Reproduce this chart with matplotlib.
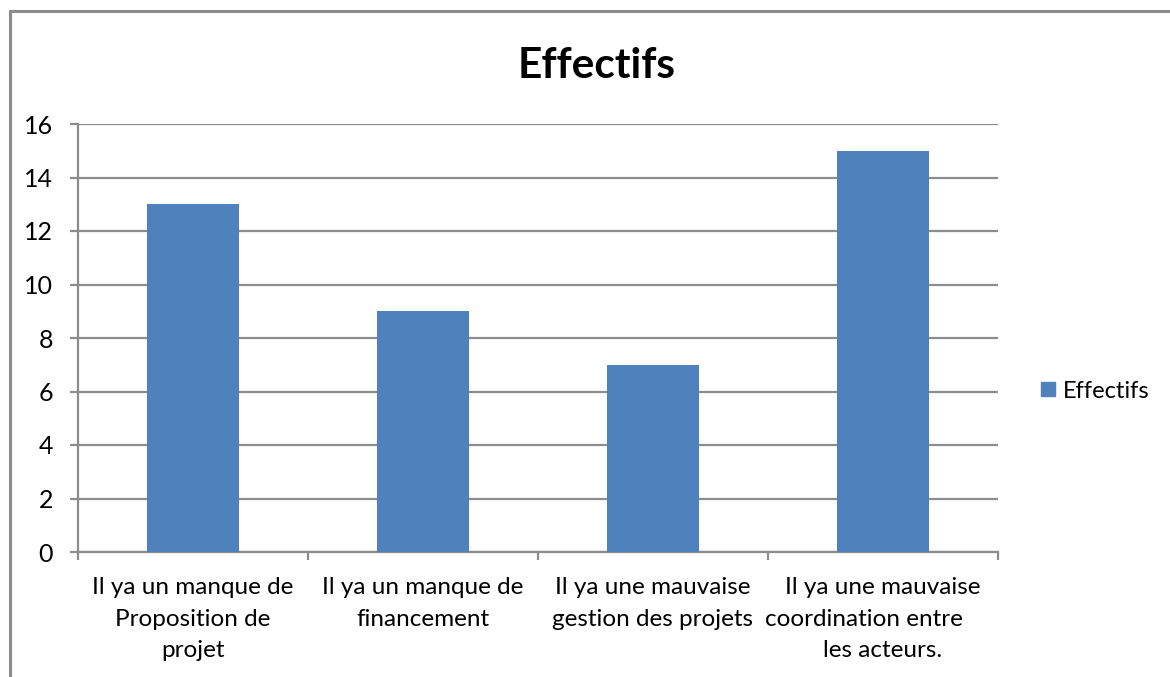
import matplotlib
matplotlib.use("Agg")
import matplotlib.pyplot as plt
from matplotlib.patches import Rectangle
from matplotlib.lines import Line2D
from matplotlib.transforms import offset_copy

categories = [
    "Il ya un manque de\nProposition de\nprojet",
    "Il ya un manque de\nfinancement",
    "Il ya une mauvaise\ngestion des projets",
    "Il ya une mauvaise\ncoordination entre\u00a0\u00a0\u00a0\u00a0\u00a0\u00a0\nles acteurs.",
]
values = [13, 9, 7, 15]
yticks = [0, 2, 4, 6, 8, 10, 12, 14, 16]
series_name = "Effectifs"
title = "Effectifs"

bar_color = "#4F81BD"
grid_color = "#8C8C8C"
font = ["Lato", "DejaVu Sans"]
plt.rcParams["font.family"] = font

W, H = 1170, 677
fig = plt.figure(figsize=(W / 100, H / 100), dpi=100)

# outer chart frame
fig.patches.append(Rectangle((10 / W, -0.1), 1.2, (H - 11) / H + 0.1,
                             transform=fig.transFigure, fill=False,
                             edgecolor="#8C8C8C", linewidth=2.2))

left, right, top, bottom = 78, 998, 124, 552
ax = fig.add_axes([left / W, 1 - bottom / H, (right - left) / W, (bottom - top) / H])

x = list(range(len(categories)))
ax.bar(x, values, width=0.4, color=bar_color, zorder=3)
ax.set_xlim(-0.5, len(categories) - 0.5)
ax.set_ylim(0, 16)
ax.set_yticks(yticks)
ax.set_yticklabels([str(v) for v in yticks], fontsize=18)
ax.yaxis.grid(True, color=grid_color, linewidth=1.6, zorder=0)
ax.tick_params(axis="y", length=6, width=1.6, color=grid_color, pad=12)

ax.set_xticks([i - 0.5 for i in range(len(categories) + 1)])
ax.set_xticklabels([])
ax.tick_params(axis="x", length=6, width=1.6, color=grid_color, direction="out")
label_tr = offset_copy(ax.get_xaxis_transform(), fig=fig, x=0, y=-18, units="points")
for i, lab in enumerate(categories):
    ax.text(i, 0, lab, ha="center", va="top", fontsize=17.5,
            linespacing=1.62, transform=label_tr)

for s in ["top", "right"]:
    ax.spines[s].set_visible(False)
for s in ["left", "bottom"]:
    ax.spines[s].set_color(grid_color)
    ax.spines[s].set_linewidth(1.6)

fig.text(597 / W, 1 - 66 / H, title, ha="center", va="center",
         fontsize=30.5, fontweight="bold")

handle = Line2D([], [], marker="s", linestyle="none", markersize=10,
                markerfacecolor=bar_color, markeredgecolor=bar_color)
fig.legend([handle], [series_name], loc="center left",
           bbox_to_anchor=(1026 / W, 1 - 391 / H), frameon=False,
           fontsize=17, handletextpad=0.15, handlelength=0.9, borderpad=0)

fig.savefig("out.png", dpi=100, facecolor="white")
